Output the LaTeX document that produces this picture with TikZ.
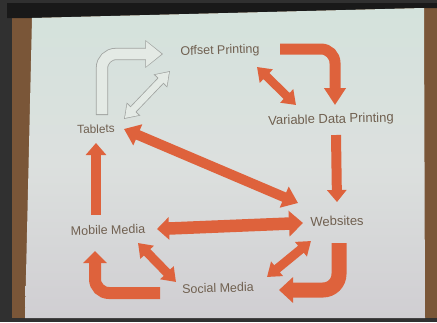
\documentclass[tikz,border=0pt]{standalone}
\usepackage{fontspec}
\setmainfont{Liberation Sans}
\usetikzlibrary{arrows.meta}
\definecolor{flowred}{RGB}{222,98,60}
\definecolor{labelgray}{RGB}{112,96,80}
\definecolor{wallbrown}{RGB}{122,86,56}
\definecolor{framegray}{RGB}{48,48,48}
\definecolor{slidetop}{RGB}{212,226,220}
\definecolor{slidemid}{RGB}{220,224,222}
\definecolor{slidebottom}{RGB}{208,206,210}
\definecolor{ghostedge}{RGB}{160,163,160}
\definecolor{ghostfill}{RGB}{228,234,229}
\tikzset{
    label text/.style={text=labelgray, font=\fontsize{12.5}{14}\selectfont, inner sep=1pt, rotate=1.5}, % slide labels
    flow/.style={draw=flowred, line width=#1}, % solid orange block arrows
    ghost edge/.style={draw=ghostedge, line width=#1},
    ghost body/.style={draw=ghostfill, line width=#1}
}

\begin{document}
\begin{tikzpicture}[x=1pt, y=-1pt]
    \useasboundingbox (0,0) rectangle (437,322);

    % frame, wall and screen
    \fill[framegray] (0,0) rectangle (437,322);
    \fill[wallbrown] (12,3) rectangle (437,318);
    \fill[black!90] (7,3) -- (437,3) -- (437,8) -- (424,8) -- (32,18) -- (7,18) -- cycle;
    \shade[top color=slidetop, bottom color=slidebottom, middle color=slidemid]
        (32,18) -- (424,8) -- (425,318) -- (25,318) -- cycle;

    % labels
    \node[label text] (offset)   at (220,51)  {Offset Printing};
    \node[label text, font=\fontsize{13}{15}\selectfont] (vdp) at (331,120) {Variable Data Printing};
    \node[label text, font=\fontsize{11.8}{14}\selectfont] (tablets) at (96,129) {Tablets};
    \node[label text, font=\fontsize{13}{15}\selectfont] (websites) at (337,221) {Websites};
    \node[label text] (mobile)   at (108,230) {Mobile Media};
    \node[label text] (social)   at (218,288) {Social Media};

    % arrow ends
    \coordinate (op-out) at (280,49);   \coordinate (vdp-in) at (335,105);
    \coordinate (op-dd) at (257,67);    \coordinate (vdp-dd) at (296,105);
    \coordinate (vdp-out) at (336,135); \coordinate (web-in) at (337,202);
    \coordinate (tab-dd) at (124,129);  \coordinate (web-dd) at (298,203);
    \coordinate (mob-out) at (96,215);  \coordinate (tab-in) at (96,143);
    \coordinate (mob-dd) at (157,229);  \coordinate (web-lr) at (303,223);
    \coordinate (mob-ds) at (138,243);  \coordinate (soc-dm) at (176,282);
    \coordinate (web-ds) at (311,241);  \coordinate (soc-dw) at (267,277);
    \coordinate (web-out) at (339,243); \coordinate (soc-in) at (279,290);
    \coordinate (soc-out) at (160,293); \coordinate (mob-in) at (95,251);
    \coordinate (tab-out) at (102,115); \coordinate (op-in) at (163,54);
    \coordinate (tab-gd) at (124,119);  \coordinate (op-gd) at (170,71);

    % outlined arrows (tablets -> offset printing)
    \draw[ghost edge=12.2pt, rounded corners=14pt, -{Triangle[length=17.6pt,width=26.6pt]}] (tab-out) |- (op-in);
    \draw[ghost body=10.6pt, rounded corners=14pt, shorten <=0.8pt, shorten >=1.3pt,
          -{Triangle[length=15.5pt,width=24pt]}] (tab-out) |- (op-in);
    \draw[ghost edge=8.2pt, {Triangle[length=13.8pt,width=17.8pt]}-{Triangle[length=13.8pt,width=17.8pt]}] (tab-gd) -- (op-gd);
    \draw[ghost body=6.6pt, shorten <=1.3pt, shorten >=1.3pt,
          {Triangle[length=11.6pt,width=15.2pt]}-{Triangle[length=11.6pt,width=15.2pt]}] (tab-gd) -- (op-gd);

    % orange arrows
    \draw[flow=11pt, rounded corners=14pt, -{Triangle[length=17pt,width=21pt]}] (op-out) -| (vdp-in);
    \draw[flow=8.5pt, {Triangle[length=13pt,width=18pt]}-{Triangle[length=13pt,width=18pt]}] (op-dd) -- (vdp-dd);
    \draw[flow=10pt, -{Triangle[length=12pt,width=19pt]}] (vdp-out) -- (web-in);
    \draw[flow=10pt, {Triangle[length=15pt,width=22pt]}-{Triangle[length=15pt,width=22pt]}] (tab-dd) -- (web-dd);
    \draw[flow=10pt, -{Triangle[length=12pt,width=20pt]}] (mob-out) -- (tab-in);
    \draw[flow=12.5pt, {Triangle[length=12pt,width=22pt]}-{Triangle[length=14pt,width=25pt]}] (mob-dd) -- (web-lr);
    \draw[flow=9pt, {Triangle[length=13pt,width=18pt]}-{Triangle[length=13pt,width=18pt]}] (mob-ds) -- (soc-dm);
    \draw[flow=9pt, {Triangle[length=13pt,width=18pt]}-{Triangle[length=13pt,width=18pt]}] (web-ds) -- (soc-dw);
    \draw[flow=15pt, rounded corners=16pt, -{Triangle[length=14pt,width=25pt]}] (web-out) |- (soc-in);
    \draw[flow=12pt, rounded corners=14pt, -{Triangle[length=12pt,width=23pt]}] (soc-out) -| (mob-in);
\end{tikzpicture}
\end{document}
